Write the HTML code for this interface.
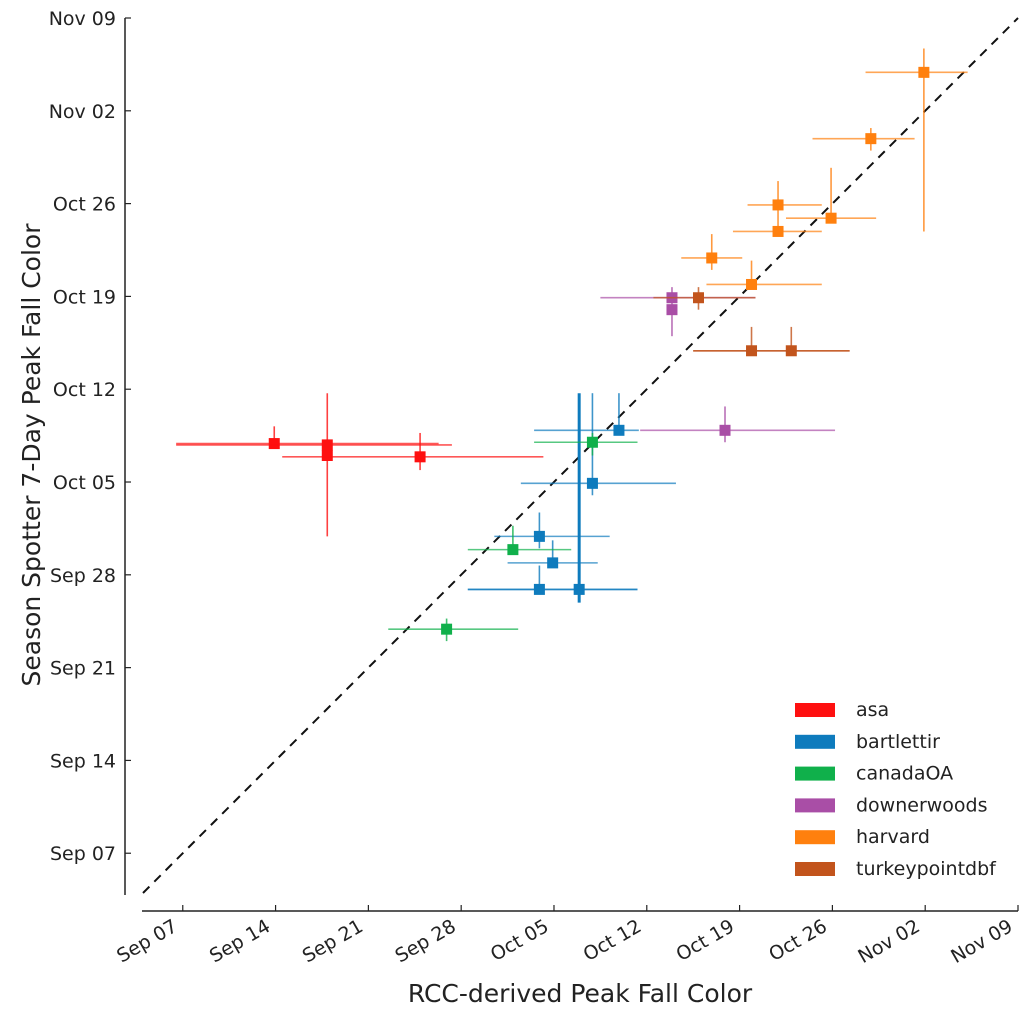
<!DOCTYPE html>
<html><head><meta charset="utf-8"><style>
html,body{margin:0;padding:0;background:#fff;}
svg{display:block;font-family:"DejaVu Sans","Liberation Sans",sans-serif;}
</style></head><body>
<svg id="chart" width="1024" height="1011" viewBox="0 0 1024 1011" xmlns="http://www.w3.org/2000/svg">
<g id="axes"></g>
<g id="marks"></g>
<g id="legend"></g>
<text x="580" y="1002" text-anchor="middle" font-size="25" fill="#222">RCC-derived Peak Fall Color</text>
<text transform="translate(40,455) rotate(-90)" text-anchor="middle" font-size="25" fill="#222">Season Spotter 7-Day Peak Fall Color</text>
</svg>
<script>
// day numbers: Sep 1 = 1, Oct 1 = 31, Nov 1 = 62
const tickDays = [7,14,21,28,35,42,49,56,63,70];
const tickLabels = ["Sep 07","Sep 14","Sep 21","Sep 28","Oct 05","Oct 12","Oct 19","Oct 26","Nov 02","Nov 09"];
const sites = ["asa","bartlettir","canadaOA","downerwoods","harvard","turkeypointdbf"];
const siteColors = ["#fe1010","#0e7bbd","#10b04b","#a94ea6","#ff800e","#c2541c"];
// per point: site index, x, xLow, xHigh, y, yLow, yHigh
const ptSite = [0,0,0,0, 1,1,1,1,1,1, 2,2,2, 3,3,3, 4,4,4,4,4,4,4, 5,5,5];
const ptX    = [13.9,17.9,17.9,24.9, 39.9,36.9,33.9,37.9,33.9,34.9, 37.9,31.9,26.9, 47.9,43.9,43.9, 62.9,58.9,51.9,55.9,51.9,46.9,49.9, 45.9,49.9,52.9];
const ptXLo  = [6.5,6.5,17.9,14.5, 33.5,28.5,28.5,32.5,30.5,31.5, 33.5,28.5,22.5, 41.5,38.5,43.9, 58.5,54.5,49.6,52.5,48.5,44.6,46.5, 42.5,45.5,45.5];
const ptXHi  = [26.3,27.3,17.9,34.2, 41.4,41.3,41.3,44.2,39.2,38.3, 41.3,36.3,32.3, 56.2,50.2,43.9, 66.2,62.2,55.2,59.3,55.2,49.2,55.2, 50.2,57.3,57.3];
const ptY    = [37.9,37.8,37.0,36.9, 38.9,26.9,26.9,34.9,30.9,28.9, 38.0,29.9,23.9, 38.9,48.9,48.0, 65.9,60.9,55.9,54.9,53.9,51.9,49.9, 48.9,44.9,44.9];
const ptYLo  = [37.9,30.9,37.0,35.9, 38.9,25.9,26.9,34.0,30.0,28.9, 37.0,29.9,23.0, 38.0,46.0,48.0, 53.9,60.0,55.9,54.9,53.9,51.0,49.9, 48.0,44.9,44.9];
const ptYHi  = [39.2,41.7,37.0,38.7, 41.7,41.7,28.7,41.7,32.7,30.6, 38.7,31.7,24.7, 40.7,49.7,48.0, 67.7,61.7,57.7,58.7,55.9,53.7,51.7, 49.7,46.7,46.7];
const thickPts = [5];

const D0=4, D1=70;
function sx(d){ return 143 + (d-D0)*(1018-143)/(D1-D0); }
function sy(d){ return 893 - (d-D0)*(893-18)/(D1-D0); }
const NS="http://www.w3.org/2000/svg";
function mk(tag, attrs, parent){ const e=document.createElementNS(NS,tag); for(const k in attrs) e.setAttribute(k,attrs[k]); parent.appendChild(e); return e; }

const axes=document.getElementById('axes');
let l=mk('line',{x1:125,y1:18,x2:125,y2:895,stroke:'#222','stroke-width':1.5},axes);


l=mk('line',{x1:142,y1:911,x2:1018,y2:911,stroke:'#222','stroke-width':1.5},axes);


tickDays.forEach((d,i)=>{
  const x=sx(d), y=sy(d);
  let t=mk('line',{x1:x,y1:911,x2:x,y2:905,stroke:'#222','stroke-width':1.2},axes);
  
  
  let tx=mk('text',{transform:`translate(${x-4},${930}) rotate(-30)`,'text-anchor':'end','font-size':19,fill:'#222'},axes);
  tx.textContent=tickLabels[i];
  
  
  t=mk('line',{x1:125,y1:y,x2:131,y2:y,stroke:'#222','stroke-width':1.2},axes);
  
  
  let ty=mk('text',{x:116,y:y+7,'text-anchor':'end','font-size':19,fill:'#222'},axes);
  ty.textContent=tickLabels[i];
  
  
});

const marks=document.getElementById('marks');
let diag=mk('line',{x1:sx(D0),y1:sy(D0),x2:sx(D1),y2:sy(D1),stroke:'#111','stroke-width':2,'stroke-dasharray':'9,7'},marks);



ptX.forEach((v,i)=>{
  const c=siteColors[ptSite[i]];
  const g=mk('g',{},marks);
  
  
  const w = thickPts.includes(i)?3:1.6;
  if(ptXHi[i]>ptXLo[i]){
    let e=mk('line',{x1:sx(ptXLo[i]),y1:sy(ptY[i]),x2:sx(ptXHi[i]),y2:sy(ptY[i]),stroke:c,'stroke-width':1.6,'stroke-opacity':0.7},g);
    
    
  }
  if(ptYHi[i]>ptYLo[i]){
    let e=mk('line',{x1:sx(v),y1:sy(ptYLo[i]),x2:sx(v),y2:sy(ptYHi[i]),stroke:c,'stroke-width':w,'stroke-opacity':thickPts.includes(i)?1:0.8},g);
    
    
  }
  let m=mk('rect',{x:sx(v)-5.5,y:sy(ptY[i])-5.5,width:11,height:11,fill:c},g);
  
  
});

const leg=document.getElementById('legend');
sites.forEach((s,i)=>{
  const cy=710+i*31.8;
  const g=mk('g',{},leg);
  
  
  mk('rect',{x:795,y:cy-7,width:40,height:14,fill:siteColors[i]},g);
  const t=mk('text',{x:856,y:cy+6,'font-size':19,fill:'#222'},g);
  t.textContent=s;
});
</script>
</body></html>
